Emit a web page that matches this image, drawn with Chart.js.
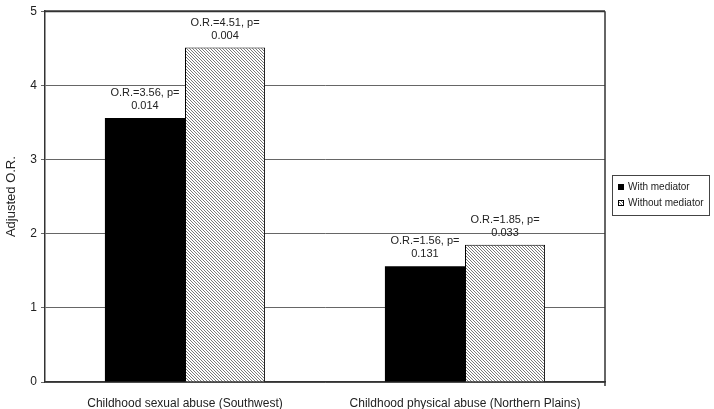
<!DOCTYPE html>
<html>
<head>
<meta charset="utf-8">
<script src="https://cdn.jsdelivr.net/npm/chart.js@4"></script>
<style>
  html, body { margin: 0; padding: 0; background: #fff; }
  #wrap { width: 714px; height: 409px; }
</style>
</head>
<body>
<div id="wrap"><canvas id="orChart" width="714" height="409"></canvas></div>
<script>
// chart data
var categories = ["Childhood sexual abuse (Southwest)", "Childhood physical abuse (Northern Plains)"];
var withMediator = [3.56, 1.56];
var withoutMediator = [4.51, 1.85];
var withLabels = [["O.R.=3.56, p=", "0.014"], ["O.R.=1.56, p=", "0.131"]];
var withoutLabels = [["O.R.=4.51, p=", "0.004"], ["O.R.=1.85, p=", "0.033"]];
var yTicks = [0, 1, 2, 3, 4, 5];

var FONT = "'Liberation Sans', Arial, sans-serif";

// diagonal hatch for the "without mediator" bars
function makeHatch() {
    var c = document.createElement("canvas");
    c.width = 3; c.height = 3;
    var g = c.getContext("2d");
    g.fillStyle = "#fff";
    g.fillRect(0, 0, 3, 3);
    g.fillStyle = "#7a7a7a";
    for (var i = 0; i < 3; i++) g.fillRect(i, i, 1, 1);
    return g.createPattern(c, "repeat");
}
var hatch = makeHatch();

// labels above bars, frame lines and legend
var extras = {
    id: "extras",
    afterDatasetsDraw: function (chart) {
        var ctx = chart.ctx;
        var area = chart.chartArea;
        ctx.save();
        ctx.font = "11px " + FONT;
        ctx.fillStyle = "#222";
        ctx.textAlign = "center";
        ctx.textBaseline = "middle";
        var sets = [withLabels, withoutLabels];
        sets.forEach(function (labels, di) {
            chart.getDatasetMeta(di).data.forEach(function (bar, i) {
                var lines = labels[i];
                ctx.fillText(lines[0], bar.x, bar.y - 25);
                ctx.fillText(lines[1], bar.x, bar.y - 12);
            });
        });

        // top and right frame
        ctx.strokeStyle = "#333";
        ctx.lineWidth = 2;
        ctx.beginPath();
        ctx.moveTo(area.left, area.top);
        ctx.lineTo(area.right, area.top);
        ctx.stroke();
        ctx.lineWidth = 1.5;
        ctx.beginPath();
        ctx.moveTo(area.right, area.top);
        ctx.lineTo(area.right, area.bottom + 4);
        ctx.stroke();

        // legend
        var lx = 612, ly = 175;
        ctx.strokeStyle = "#444";
        ctx.lineWidth = 1;
        ctx.strokeRect(lx + 0.5, ly + 0.5, 97, 40);
        ctx.textAlign = "left";
        ctx.font = "10px " + FONT;
        ctx.fillStyle = "#000";
        ctx.fillRect(lx + 6, ly + 9, 6, 6);
        ctx.fillStyle = "#222";
        ctx.fillText("With mediator", lx + 16, ly + 12);
        ctx.fillStyle = hatch;
        ctx.fillRect(lx + 6, ly + 25, 6, 6);
        ctx.strokeStyle = "#000";
        ctx.strokeRect(lx + 6.5, ly + 25.5, 5, 5);
        ctx.fillStyle = "#222";
        ctx.fillText("Without mediator", lx + 16, ly + 28);
        ctx.restore();
    }
};

new Chart(document.getElementById("orChart"), {
    type: "bar",
    data: {
        labels: categories,
        datasets: [{
            label: "With mediator",
            data: withMediator,
            backgroundColor: "#000",
            borderColor: "#000",
            borderWidth: 0
        }, {
            label: "Without mediator",
            data: withoutMediator,
            backgroundColor: hatch,
            borderColor: "#000",
            borderWidth: 1
        }]
    },
    options: {
        responsive: false,
        animation: false,
        devicePixelRatio: 1,
        layout: { padding: { top: 8, right: 109, left: 0, bottom: 0 } },
        datasets: {
            bar: { categoryPercentage: 0.572, barPercentage: 1 }
        },
        plugins: {
            legend: { display: false },
            tooltip: { enabled: false }
        },
        scales: {
            x: {
                grid: { display: false },
                border: { color: "#333", width: 1.5 },
                ticks: { color: "#222", font: { family: FONT, size: 12 }, maxRotation: 0, padding: 6 },
                afterFit: function (s) { s.height = 27; }
            },
            y: {
                min: 0,
                max: 5,
                afterBuildTicks: function (s) { s.ticks = yTicks.map(function (v) { return { value: v }; }); },
                grid: { color: "#666", lineWidth: 1, tickLength: 4, drawTicks: true },
                border: { color: "#333", width: 1.5 },
                ticks: { color: "#222", font: { family: FONT, size: 12 }, padding: 4 },
                title: { display: true, text: "Adjusted O.R.", color: "#222", font: { family: FONT, size: 13 }, padding: { top: 4, bottom: 0 } },
                afterFit: function (s) { s.width = 45; }
            }
        }
    },
    plugins: [extras]
});
</script>
</body>
</html>
